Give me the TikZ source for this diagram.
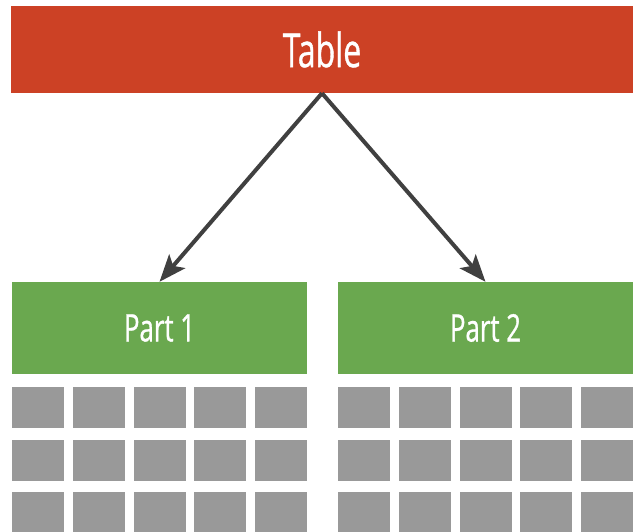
\documentclass[tikz,border=0pt]{standalone}
\usepackage{fontspec}
\newfontfamily\labelfont[FakeStretch=0.68, FakeBold=0.8]{Open Sans}
\usetikzlibrary{arrows.meta}
\definecolor{tablered}{RGB}{204,65,37}
\definecolor{partgreen}{RGB}{106,168,79}
\definecolor{cellgrey}{RGB}{153,153,153}
\definecolor{arrowgrey}{RGB}{64,64,64}
\begin{document}
\begin{tikzpicture}[x=1pt, y=-1pt, >={Stealth[length=27pt,width=21pt,inset=6pt]},
        every node/.style={inner sep=0pt, text=white, labelfont},
        labelfont/.style={font=\labelfont},
        bar/.style={fill=tablered, minimum width=622pt, minimum height=87pt, font=\labelfont\fontsize{47}{47}\selectfont},
        part/.style={fill=partgreen, minimum width=295pt, minimum height=92pt, font=\labelfont\fontsize{38}{38}\selectfont},
        cell/.style={fill=cellgrey, minimum width=52pt, minimum height=41pt}]
        \useasboundingbox (0,0) rectangle (633,532);
        \node[bar] (table) at (322,49.5) {Table};
        \node[part] (p1) at (159.5,328) {Part 1};
        \node[part] (p2) at (485.5,328) {Part 2};
        \foreach \p/\x in {1/12,2/338}
            \foreach \c in {0,...,4}
                \foreach \r in {0,1,2}
                    \node[cell] (c\p\r\c) at ({\x+26+60.75*\c},{407.5+52.5*\r}) {};
        \draw[->, arrowgrey, line width=4pt] (table.south)--(p1.north);
        \draw[->, arrowgrey, line width=4pt] (table.south)--(p2.north);
    \end{tikzpicture}
\end{document}
